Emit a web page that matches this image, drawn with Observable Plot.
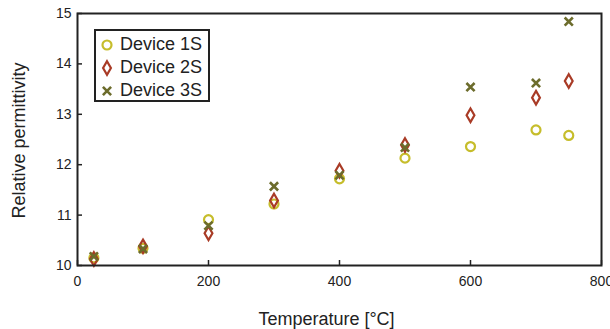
<!DOCTYPE html>
<html>
<head>
<meta charset="utf-8">
<script src="https://cdn.jsdelivr.net/npm/d3@7"></script>
<script src="https://cdn.jsdelivr.net/npm/@observablehq/plot@0.6"></script>
<style>
  html, body { margin: 0; padding: 0; overflow: hidden; background: #fff; }
  #wrap { position: relative; width: 610px; height: 329px; font-family: "Liberation Sans", Arial, sans-serif; }
  #legend { position: absolute; left: 94px; top: 29px; width: 112px; height: 69px; border: 2px solid #222; background: #fff; }
  .row { position: absolute; left: 0; height: 23px; display: flex; align-items: center; font-size: 18px; color: #222; }
  .row svg { margin-left: 3px; margin-right: 5px; }
</style>
</head>
<body>
<div id="wrap"></div>
<script>
const temps = [25, 100, 200, 300, 400, 500, 600, 700, 750];
const device1S = [10.15, 10.34, 10.91, 11.22, 11.72, 12.13, 12.36, 12.69, 12.58];
const device2S = [10.13, 10.38, 10.64, 11.29, 11.88, 12.39, 12.98, 13.33, 13.66];
const device3S = [10.18, 10.33, 10.79, 11.57, 11.79, 12.34, 13.54, 13.62, 14.84];
const seriesNames = ["Device 1S", "Device 2S", "Device 3S"];
const xTicks = [0, 200, 400, 600, 800];
const yTicks = [10, 11, 12, 13, 14, 15];

const colors = ["#c6bd2b", "#a93b26", "#6c6c2c"];
const symbols = ["circle", "diamond", "times"];
const radii = [4.5, 4.1, 3.8];

const table = (vals) => temps.map((t, i) => ({t, v: vals[i]}));
const sets = [device1S, device2S, device3S].map(table);

const ink = "#222";
const plot = Plot.plot({
  width: 610,
  height: 329,
  marginLeft: 77,
  marginRight: 9,
  marginTop: 13,
  marginBottom: 64,
  style: {fontFamily: '"Liberation Sans", Arial, sans-serif', fontSize: "14px", color: ink, background: "#fff", overflow: "visible"},
  x: {domain: [0, 800]},
  y: {domain: [10, 15]},
  marks: [
    Plot.axisX({ticks: xTicks, tickSize: -5, tickPadding: 15.7, tickFormat: d3.format("d"), label: null, stroke: ink, strokeWidth: 1.5, fill: ink}),
    Plot.axisY({ticks: yTicks, tickSize: -5, tickPadding: 11, tickFormat: d3.format("d"), label: null, stroke: ink, strokeWidth: 1.5, fill: ink}),
    ...sets.map((data, k) => Plot.dot(data, {
      x: "t", y: "v", symbol: () => symbols[k], r: radii[k],
      stroke: colors[k], strokeWidth: k === 2 ? 2.6 : 2.2, fill: "none"
    })),
    Plot.frame({stroke: ink, strokeWidth: 2}),
    Plot.text(["Temperature [°C]"], {frameAnchor: "bottom", textAnchor: "middle", dx: -13, dy: 53.5, lineAnchor: "middle", fontSize: 18, fill: ink}),
    Plot.text(["Relative permittivity"], {frameAnchor: "left", textAnchor: "middle", rotate: -90, dx: -57.8, dy: 1, lineAnchor: "middle", fontSize: 18, fill: ink})
  ]
});

const wrap = document.getElementById("wrap");
wrap.appendChild(plot);

// legend
const legend = document.createElement("div");
legend.id = "legend";
seriesNames.forEach((name, k) => {
  const row = document.createElement("div");
  row.className = "row";
  row.style.top = (2 + k * 23) + "px";
  const s = d3.create("svg").attr("width", 16).attr("height", 20);
  const sym = {circle: d3.symbolCircle, diamond: d3.symbolDiamond, times: d3.symbolTimes}[symbols[k]];
  s.append("path")
    .attr("transform", "translate(8,10)")
    .attr("d", d3.symbol(sym, Math.PI * radii[k] * radii[k])())
    .attr("fill", "none")
    .attr("stroke", colors[k])
    .attr("stroke-width", k === 2 ? 2.6 : 2.2);
  row.appendChild(s.node());
  const span = document.createElement("span");
  span.textContent = name;
  row.appendChild(span);
  legend.appendChild(row);
});
wrap.appendChild(legend);
</script>
</body>
</html>
